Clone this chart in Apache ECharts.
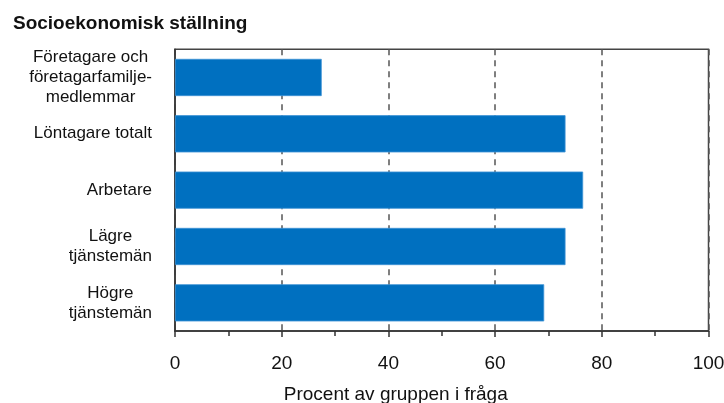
<!DOCTYPE html>
<html>
<head>
<meta charset="utf-8">
<style>html,body{margin:0;padding:0;background:#fff}#c{width:724px;height:403px}</style>
<script src="https://cdn.jsdelivr.net/npm/echarts@6/dist/echarts.min.js"></script>
</head>
<body>
<div id="c"></div>
<script>
const categories = [
  'Företagare och\nföretagarfamilje-\nmedlemmar',
  'Löntagare totalt',
  'Arbetare',
  'Lägre\ntjänstemän',
  'Högre\ntjänstemän'
];
const values = [27.5, 73.2, 76.5, 73.2, 69.2];
const titleText = 'Socioekonomisk ställning';
const axisTitle = 'Procent av gruppen i fråga';
const xTicks = [0, 20, 40, 60, 80, 100];

const chart = echarts.init(document.getElementById('c'));
const FONT = '"Liberation Sans", Arial, sans-serif';
chart.setOption({
  animation: false,
  textStyle: { fontFamily: FONT },
  title: {
    text: titleText,
    left: 8, top: 9,
    textStyle: { fontFamily: FONT, fontSize: 19, fontWeight: 'bold', color: '#111' }
  },
  grid: {
    left: 175, right: 15.5, top: 49.3, bottom: 72,
    outerBoundsMode: 'none', containLabel: false,
    show: true, borderColor: '#444', borderWidth: 1.5, backgroundColor: 'transparent'
  },
  xAxis: {
    type: 'value', min: 0, max: 100, interval: 20,
    name: axisTitle, nameLocation: 'middle', nameGap: 54,
    nameTextStyle: { fontFamily: FONT, fontSize: 19, color: '#111', padding: [0, 92, 0, 0] },
    axisLine: { show: true, lineStyle: { color: '#333', width: 1.5 } },
    axisTick: { show: true, length: 6, lineStyle: { color: '#333', width: 1.5 } },
    minorTick: { show: true, splitNumber: 2, length: 5, lineStyle: { color: '#333', width: 1.5 } },
    axisLabel: {
      margin: 23, fontFamily: FONT, fontSize: 19, color: '#111',
      formatter: v => xTicks.includes(v) ? String(v) : ''
    },
    splitLine: { show: true, lineStyle: { color: '#555', width: 1.5, type: [6, 5] } }
  },
  yAxis: {
    type: 'category', data: categories, inverse: true,
    axisLine: { show: true, lineStyle: { color: '#333', width: 1.5 } },
    axisTick: { show: false },
    axisLabel: {
      margin: 23, fontFamily: FONT, fontSize: 17, color: '#111', lineHeight: 20,
      formatter: v => v.split('\n').map(s => '{c|' + s + '}').join('\n'),
      rich: { c: { align: 'center', fontFamily: FONT, fontSize: 17, color: '#111', lineHeight: 20 } }
    }
  },
  series: [{
    type: 'bar', data: values, barCategoryGap: '34%',
    itemStyle: { color: '#0070C0', borderColor: '#3d93d6', borderWidth: 0.8 }
  }]
});
</script>
</body>
</html>
